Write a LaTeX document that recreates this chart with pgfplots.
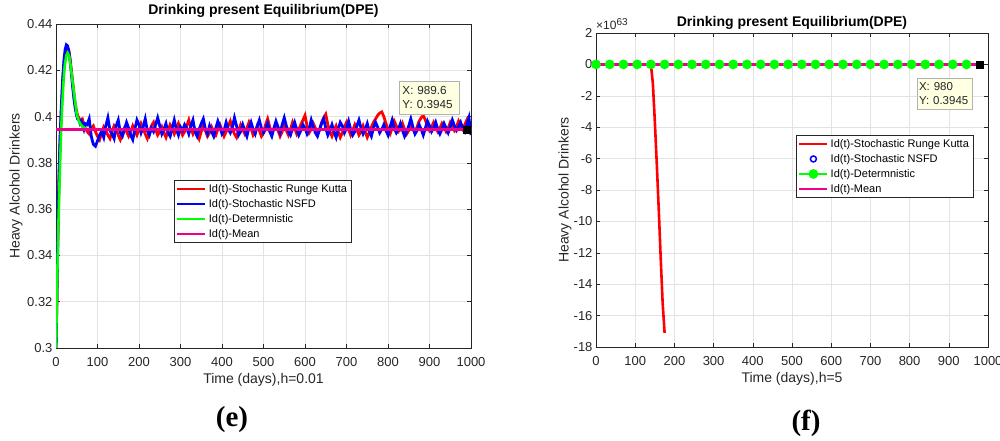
\documentclass[border=0pt]{standalone}
\usepackage{fontspec}
\setmainfont{Liberation Sans}
\newfontfamily\seriffont{Liberation Serif}
\usepackage{pgfplots}
\pgfplotsset{compat=1.18}
\definecolor{tipfill}{RGB}{255,255,225}
\definecolor{axgray}{RGB}{38,38,38}
\begin{document}
\begin{tikzpicture}
\useasboundingbox (0,0) rectangle (1000pt,440pt);
\pgfplotsset{
 mystyle/.style={
  scale only axis,
  axis line style={axgray, line width=0.5pt},
  tick style={axgray, line width=0.5pt},
  major tick length=4pt,
  tick align=inside,
  tick pos=both,
  grid=major,
  major grid style={gray!22, line width=0.5pt},
  ticklabel style={font=\fontsize{13}{15}\selectfont, text=axgray},
  xticklabel style={yshift=-6pt},
  label style={font=\fontsize{14}{16}\selectfont, text=axgray},
  every axis title shift=0pt,
  title style={font=\bfseries\fontsize{14}{16}\selectfont, text=black},
  legend style={font=\fontsize{11}{13}\selectfont, draw=axgray, fill=white, inner sep=2pt, row sep=1.5pt, cells={anchor=west}},
  legend image code/.code={\draw[mark repeat=2,mark phase=2,##1] plot coordinates {(0pt,0pt)(14pt,0pt)(28pt,0pt)};},
  xmin=0, xmax=1000, xtick={0,100,...,1000},
  xticklabels={0,100,200,300,400,500,600,700,800,900,1000},
 }
}
% ---------------- (e) ----------------
\begin{axis}[mystyle, at={(56pt,92pt)}, anchor=south west, width=415pt, height=324pt,
  ymin=0.3, ymax=0.44,
  ytick={0.3,0.32,0.34,0.36,0.38,0.4,0.42,0.44},
  yticklabels={0.3,0.32,0.34,0.36,0.38,0.4,0.42,0.44},
  title={Drinking present Equilibrium(DPE)},
  title style={at={(axis description cs:0.5,1.040)}, anchor=center},
  xlabel={Time (days),h=0.01},
  xlabel style={at={(axis description cs:0.5,-0.099)}, anchor=center},
  ylabel={Heavy Alcohol Drinkers},
  ylabel style={at={(axis description cs:-0.0964,0.5)}, anchor=center},
  legend style={at={(axis description cs:0.284,0.5185)}, anchor=north west},
]
\addplot[red, line width=2.8pt] coordinates {
(0,0.3)(2,0.318)(4,0.342)(6,0.362)(8,0.378)(10,0.39)(13,0.403)(16,0.414)(19,0.422)(22,0.427)(25,0.4295)(28,0.43)(31,0.4285)(34,0.425)(37,0.42)(40,0.4155)(43,0.4105)(46,0.406)(49,0.403)(52,0.4005)(55,0.3995)(58,0.3985)(61,0.3975)(64,0.3985)(67,0.396)(70,0.3955)
(75,0.3935)(80,0.3925)(85,0.3950)(90,0.3960)(95,0.3935)(100,0.3915)(105,0.3900)(110,0.3930)(115,0.3955)(120,0.3940)
(125,0.3920)(130,0.3905)(135,0.3935)(140,0.3960)(145,0.3945)(150,0.3920)(155,0.3900)(160,0.3925)(165,0.3950)(170,0.3935)
(175,0.3915)(180,0.3935)(185,0.3960)(190,0.3940)(195,0.3920)(200,0.3945)(205,0.3970)(210,0.3950)(215,0.3925)(220,0.3905)
(225,0.3935)(230,0.3960)(235,0.3975)(240,0.3945)(245,0.3920)(250,0.3935)(255,0.3955)(260,0.3930)(265,0.3910)(270,0.3940)
(275,0.3965)(280,0.3950)(285,0.3925)(290,0.3945)(295,0.3970)(300,0.3945)(305,0.3920)(310,0.3935)(315,0.3960)(320,0.3985)
(325,0.3950)(330,0.3925)(335,0.3945)(340,0.3930)(345,0.3905)(350,0.3935)(355,0.3960)(360,0.3940)(365,0.3915)(370,0.3930)
(375,0.3955)(380,0.3935)(385,0.3920)(390,0.3945)(395,0.3965)(400,0.3940)(405,0.3915)(410,0.3935)(415,0.3960)(420,0.3980)
(425,0.3945)(430,0.3925)(435,0.3910)(440,0.3940)(445,0.3965)(450,0.3945)(455,0.3925)(460,0.3950)(465,0.3975)(470,0.3950)
(475,0.3920)(480,0.3935)(485,0.3960)(490,0.3940)(495,0.3915)(500,0.3930)(505,0.3965)(510,0.3990)(515,0.3955)(520,0.3930)
(525,0.3945)(530,0.3970)(535,0.3940)(540,0.3915)(545,0.3935)(550,0.3960)(555,0.3940)(560,0.3920)(565,0.3945)(570,0.3975)
(575,0.3950)(580,0.3925)(585,0.3945)(590,0.3965)(595,0.3985)(600,0.4005)(605,0.3960)(610,0.3930)(615,0.3945)(620,0.3970)
(625,0.3950)(630,0.3925)(635,0.3940)(640,0.3975)(645,0.3995)(650,0.4010)(655,0.3965)(660,0.3935)(665,0.3915)(670,0.3940)
(675,0.3960)(680,0.3935)(685,0.3910)(690,0.3930)(695,0.3955)(700,0.3975)(705,0.3945)(710,0.3920)(715,0.3940)(720,0.3965)
(725,0.3945)(730,0.3920)(735,0.3935)(740,0.3960)(745,0.3935)(750,0.3910)(755,0.3930)(760,0.3955)(765,0.3975)(770,0.3990)
(775,0.4005)(780,0.4015)(785,0.4020)(790,0.4000)(795,0.3970)(800,0.3945)(805,0.3925)(810,0.3950)(815,0.3980)(820,0.3960)
(825,0.3935)(830,0.3945)(835,0.3970)(840,0.3945)(845,0.3925)(850,0.3940)(855,0.3965)(860,0.3945)(865,0.3930)(870,0.3955)
(875,0.3980)(880,0.3995)(885,0.4005)(890,0.3985)(895,0.3960)(900,0.3940)(905,0.3955)(910,0.3975)(915,0.3955)(920,0.3935)
(925,0.3950)(930,0.3970)(935,0.3955)(940,0.3935)(945,0.3950)(950,0.3975)(955,0.3960)(960,0.3940)(965,0.3955)(970,0.3980)
(975,0.3960)(980,0.3945)(985,0.3965)(990,0.3985)(995,0.3950)(1000,0.3930)
};
\addlegendentry{Id(t)-Stochastic Runge Kutta}
\addplot[blue, line width=2.8pt] coordinates {
(0,0.3)(2,0.32)(4,0.345)(6,0.365)(8,0.38)(10,0.392)(13,0.405)(16,0.416)(19,0.424)(22,0.429)(25,0.431)(28,0.4305)(31,0.428)(34,0.424)(37,0.419)(40,0.413)(43,0.408)(46,0.404)(49,0.401)(52,0.399)(55,0.3985)(58,0.397)(61,0.398)(64,0.396)(67,0.3945)(70,0.397)
(75,0.3965)(80,0.3990)(85,0.3915)(90,0.3880)(95,0.3872)(100,0.3895)(105,0.3920)(110,0.3935)(115,0.3910)(120,0.3960)
(125,0.3995)(130,0.3940)(135,0.3925)(140,0.3905)(145,0.3960)(150,0.3985)(155,0.3930)(160,0.3915)(165,0.3945)(170,0.3975)
(175,0.3950)(180,0.3920)(185,0.3900)(190,0.3945)(195,0.3985)(200,0.3965)(205,0.3930)(210,0.3955)(215,0.3990)(220,0.3940)
(225,0.3920)(230,0.3950)(235,0.3935)(240,0.3965)(245,0.3995)(250,0.3960)(255,0.3925)(260,0.3945)(265,0.3970)(270,0.3930)
(275,0.3915)(280,0.3950)(285,0.3985)(290,0.3945)(295,0.3920)(300,0.3955)(305,0.3940)(310,0.3965)(315,0.3950)(320,0.3925)
(325,0.3960)(330,0.3985)(335,0.3935)(340,0.3915)(345,0.3945)(350,0.3970)(355,0.3990)(360,0.3945)(365,0.3925)(370,0.3960)
(375,0.3935)(380,0.3915)(385,0.3950)(390,0.3980)(395,0.3955)(400,0.3925)(405,0.3940)(410,0.3975)(415,0.3945)(420,0.3930)
(425,0.3955)(430,0.3995)(435,0.3960)(440,0.3920)(445,0.3935)(450,0.3965)(455,0.3940)(460,0.3915)(465,0.3950)(470,0.3975)
(475,0.3945)(480,0.3925)(485,0.3960)(490,0.3985)(495,0.3950)(500,0.3930)(505,0.3945)(510,0.3970)(515,0.3935)(520,0.3915)
(525,0.3950)(530,0.3980)(535,0.3955)(540,0.3930)(545,0.3965)(550,0.3995)(555,0.3960)(560,0.3935)(565,0.3920)(570,0.3950)
(575,0.3975)(580,0.3945)(585,0.3920)(590,0.3940)(595,0.3965)(600,0.3950)(605,0.3925)(610,0.3945)(615,0.3985)(620,0.3955)
(625,0.3930)(630,0.3915)(635,0.3945)(640,0.3970)(645,0.3990)(650,0.3950)(655,0.3920)(660,0.3940)(665,0.3965)(670,0.3935)
(675,0.3910)(680,0.3945)(685,0.3975)(690,0.3960)(695,0.3930)(700,0.3950)(705,0.3980)(710,0.3945)(715,0.3920)(720,0.3935)
(725,0.3960)(730,0.3985)(735,0.3950)(740,0.3925)(745,0.3945)(750,0.3970)(755,0.3935)(760,0.3915)(765,0.3950)(770,0.3975)
(775,0.3955)(780,0.3930)(785,0.3945)(790,0.3965)(795,0.3940)(800,0.3920)(805,0.3955)(810,0.3985)(815,0.3950)(820,0.3930)
(825,0.3945)(830,0.3970)(835,0.3940)(840,0.3915)(845,0.3935)(850,0.3960)(855,0.3990)(860,0.3955)(865,0.3925)(870,0.3940)
(875,0.3965)(880,0.3945)(885,0.3920)(890,0.3950)(895,0.3980)(900,0.3960)(905,0.3935)(910,0.3950)(915,0.3975)(920,0.3945)
(925,0.3925)(930,0.3945)(935,0.3970)(940,0.3950)(945,0.3930)(950,0.3955)(955,0.3985)(960,0.3960)(965,0.3940)(970,0.3955)
(975,0.3975)(980,0.3950)(985,0.3935)(990,0.3965)(995,0.3995)(1000,0.3920)
};
\addlegendentry{Id(t)-Stochastic NSFD}
\addplot[green, line width=2.6pt] coordinates {
(0,0.30)(3,0.33)(6,0.355)(9,0.375)(12,0.392)(15,0.405)(18,0.415)(21,0.422)(25,0.4265)(28,0.4275)(32,0.426)(36,0.421)(40,0.415)(45,0.408)(50,0.401)(55,0.398)(60,0.3965)(65,0.3955)(70,0.395)(80,0.3943)(90,0.3944)(100,0.3945)(1000,0.3945)
};
\addlegendentry{Id(t)-Determnistic}
\addplot[magenta, line width=2.6pt] coordinates {(0,0.3945)(1000,0.3945)};
\addlegendentry{Id(t)-Mean}
\addplot[only marks, mark=square*, mark size=3.5pt, black, forget plot] coordinates {(989.6,0.3945)};
\node[draw=black!30, fill=tipfill, anchor=north west, text width=53pt, inner xsep=3.5pt, inner ysep=5.2pt, align=left, font=\fontsize{11.7}{14.5}\selectfont, text=axgray] at (axis cs:826,0.4155) {X: 989.6\\Y: 0.3945};
\end{axis}
% ---------------- (f) ----------------
\begin{axis}[mystyle, name=fax, at={(596pt,93pt)}, anchor=south west, width=392pt, height=314pt,
  ymin=-18, ymax=2,
  ytick={-18,-16,-14,-12,-10,-8,-6,-4,-2,0,2},
  yticklabels={-18,-16,-14,-12,-10,-8,-6,-4,-2,0,2},
  title={Drinking present Equilibrium(DPE)},
  title style={at={(axis description cs:0.5,1.032)}, anchor=center},
  xlabel={Time (days),h=5},
  xlabel style={at={(axis description cs:0.5,-0.103)}, anchor=center},
  ylabel={Heavy Alcohol Drinkers},
  ylabel style={at={(axis description cs:-0.079,0.5)}, anchor=center},
  legend style={at={(axis description cs:0.510,0.675)}, anchor=north west},
]
\addplot[red, line width=2.6pt] coordinates {
(0,0)(140,0)(145,-1.2)(150,-3.6)(155,-6.3)(160,-9.2)(165,-12.3)(170,-15.2)(175,-17.1)
};
\addlegendentry{Id(t)-Stochastic Runge Kutta}
\addplot[only marks, blue, mark=o, mark size=3pt, line width=1.5pt] coordinates {
(0,0)(35,0)(70,0)(105,0)(140,0)(175,0)(210,0)(245,0)(280,0)(315,0)(350,0)(385,0)(420,0)(455,0)(490,0)(525,0)(560,0)(595,0)(630,0)(665,0)(700,0)(735,0)(770,0)(805,0)(840,0)(875,0)(910,0)(945,0)
};
\addlegendentry{Id(t)-Stochastic NSFD}
\addplot[green, line width=2.4pt, forget plot] coordinates {(0,0)(980,0)};
\addplot[green, line width=2.4pt, mark=*, mark size=3.6pt] coordinates {
(0,0)(35,0)(70,0)(105,0)(140,0)(175,0)(210,0)(245,0)(280,0)(315,0)(350,0)(385,0)(420,0)(455,0)(490,0)(525,0)(560,0)(595,0)(630,0)(665,0)(700,0)(735,0)(770,0)(805,0)(840,0)(875,0)(910,0)(945,0)
};
\addlegendentry{Id(t)-Determnistic}
\addplot[magenta, line width=2.6pt] coordinates {(0,0)(980,0)};
\addlegendentry{Id(t)-Mean}
\addplot[only marks, mark=square*, mark size=3.5pt, black, forget plot] coordinates {(980,0)};
\node[draw=black!30, fill=tipfill, anchor=north west, text width=51pt, inner xsep=1.8pt, inner ysep=4.5pt, align=left, font=\fontsize{11.5}{14}\selectfont, text=axgray] at (axis cs:819,-0.87) {X: 980\\Y:~0.3945};
\end{axis}
\node[anchor=south west, inner sep=0pt, font=\fontsize{12}{13}\selectfont, text=axgray, yshift=3pt] at (fax.north west) {×10\raisebox{4pt}{\fontsize{10}{11}\selectfont 63}};
\node[font=\seriffont\bfseries\fontsize{29}{31}\selectfont] at (232pt,20pt) {(e)};
\node[font=\seriffont\bfseries\fontsize{29}{31}\selectfont] at (806pt,17pt) {(f)};
\end{tikzpicture}
\end{document}
